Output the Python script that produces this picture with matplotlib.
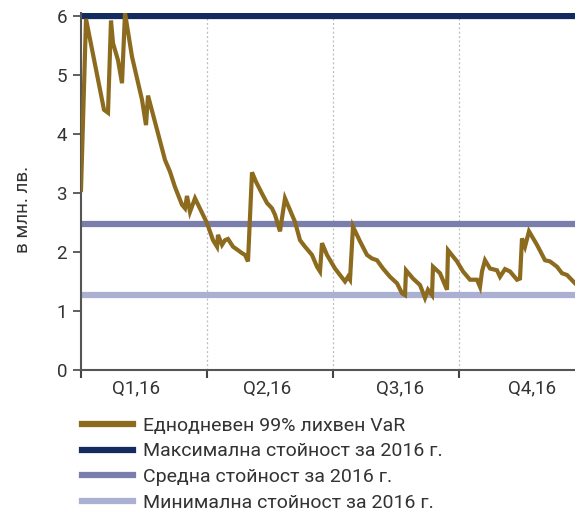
import numpy as np
import matplotlib.pyplot as plt
from matplotlib.lines import Line2D

plt.rcParams['font.family'] = ['Roboto', 'DejaVu Sans']

# Дни от началото на годината и еднодневен VaR (млн. лв.)
days = [0, 2.5, 11.5, 13.5, 15, 16, 18.5, 20.5, 22, 25.5, 30.5, 32.5, 33.5, 38.5,
        42, 44.5, 47, 50.5, 52, 53, 54.5, 57, 63, 66, 68, 68.5, 70.5, 72, 73.5,
        76, 78.5, 80.5, 82, 83.5, 85.5, 87.5, 90.5, 93, 95.5, 97, 99.5, 102,
        104.5, 107, 109.5, 112, 115.5, 118, 119.5, 120.5, 123, 127, 132, 133.5,
        134.5, 136, 139.5, 143, 145.5, 148, 151, 154.5, 158, 160.5, 162, 162.5,
        166, 169.5, 172, 173.5, 175.5, 176, 179.5, 183, 183.5, 188, 191, 194.5,
        198, 199.5, 200.5, 202, 204.5, 208, 209.5, 212, 214.5, 218, 219.5,
        220.5, 222, 224, 228, 232, 234.5, 238, 240.5, 243, 247]
var = [3.05, 5.95, 4.41, 4.36, 5.92, 5.54, 5.25, 4.86, 6.05, 5.31, 4.58, 4.15,
       4.65, 4.01, 3.56, 3.36, 3.1, 2.8, 2.74, 2.95, 2.68, 2.91, 2.49, 2.2, 2.09,
       2.29, 2.12, 2.2, 2.22, 2.09, 2.03, 1.98, 1.95, 1.84, 3.35, 3.19, 2.99,
       2.83, 2.74, 2.63, 2.35, 2.91, 2.71, 2.51, 2.2, 2.09, 1.95, 1.75, 1.67,
       2.15, 1.95, 1.72, 1.5, 1.58, 1.53, 2.43, 2.18, 1.95, 1.89, 1.86, 1.72,
       1.58, 1.47, 1.3, 1.27, 1.69, 1.55, 1.44, 1.22, 1.36, 1.27, 1.75, 1.64,
       1.36, 2.03, 1.84, 1.67, 1.53, 1.53, 1.41, 1.67, 1.86, 1.72, 1.69, 1.58,
       1.71, 1.67, 1.53, 1.55, 2.23, 2.09, 2.35, 2.12, 1.86, 1.84, 1.75, 1.64,
       1.61, 1.47]

var_max = 6.0
var_mean = 2.48
var_min = 1.27

quarter_edges = [0, 63, 126, 189]
quarter_label_pos = [27.5, 93, 159.5, 225.5]
quarter_labels = ['Q1,16', 'Q2,16', 'Q3,16', 'Q4,16']

legend_labels = ['Еднодневен 99% лихвен VaR',
                 'Максимална стойност за 2016 г.',
                 'Средна стойност за 2016 г.',
                 'Минимална стойност за 2016 г.']

c_var = '#8c6b1f'
c_max = '#132b5f'
c_mean = '#7a7eac'
c_min = '#abb0d3'
txt = '#333333'

fig = plt.figure(figsize=(5.75, 5.14), dpi=100)
ax = fig.add_axes([81/575, 144/514, 1 - 81/575, 357/514])

ax.axhline(var_max, color=c_max, lw=4.5, zorder=2)
ax.axhline(var_mean, color=c_mean, lw=4.5, zorder=2)
ax.axhline(var_min, color=c_min, lw=4.5, zorder=2)
ax.plot(days, var, color=c_var, lw=3, zorder=3, solid_joinstyle='miter')

for q in quarter_edges[1:]:
    ax.axvline(q, color='#bbbbbb', lw=0.9, ls=(0, (1.5, 2)), zorder=1)

ax.set_xlim(0, 247)
ax.set_ylim(0, 6.05)
ax.set_yticks(range(7))

ax.set_xticks(quarter_edges)
ax.set_xticklabels([])
ax.set_xticks(quarter_label_pos, minor=True)
ax.set_xticklabels(quarter_labels, minor=True)
ax.tick_params(axis='x', which='major', length=6, width=1.5, color='#444444', direction='out')
ax.tick_params(axis='x', which='minor', length=0, pad=7, labelsize=13.5, labelcolor=txt)
ax.tick_params(axis='y', length=6, width=1.2, color='#444444', pad=4, labelsize=13.5, labelcolor=txt)

for s in ['top', 'right']:
    ax.spines[s].set_visible(False)
for s in ['left', 'bottom']:
    ax.spines[s].set_color('#555555')
    ax.spines[s].set_linewidth(1.5)

ax.set_ylabel('в млн. лв.', fontsize=13.5, color=txt)
ax.yaxis.set_label_coords(-0.1, 0.45)

handles = [Line2D([], [], color=c, lw=4.5) for c in [c_var, c_max, c_mean, c_min]]
fig.legend(handles, legend_labels, loc='upper left', bbox_to_anchor=(72/575, 1 - 407/514),
           frameon=False, fontsize=14, handlelength=2.65, handletextpad=0.5,
           labelspacing=0.4, borderpad=0, labelcolor=txt)

fig.savefig('out.png', dpi=100)
